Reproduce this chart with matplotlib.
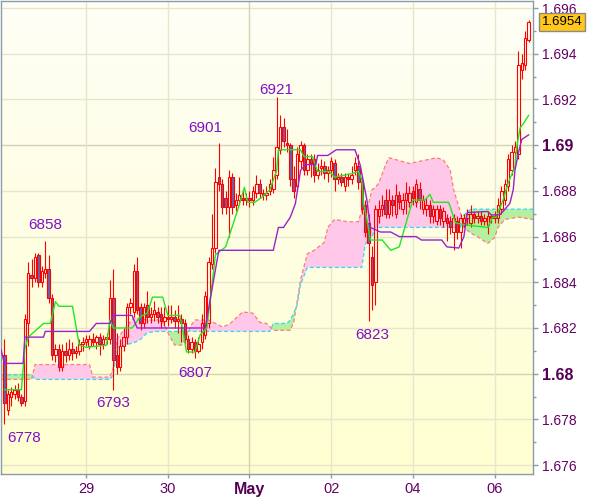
import numpy as np
import matplotlib
matplotlib.use('Agg')
import matplotlib.pyplot as plt
from matplotlib.colors import LinearSegmentedColormap
from matplotlib.transforms import blended_transform_factory

plt.rcParams['font.family'] = ['Liberation Sans', 'DejaVu Sans']

# hourly candles, prices in pips the way the chart labels them (6858 -> 1.6858)
first_bar = -24   # bars before the "29" gridline
open_pips = [
    6808, 6784, 6790, 6791, 6793, 6790, 6788, 6822, 6843, 6842,
    6852, 6840, 6844, 6846, 6833, 6808, 6811, 6803, 6810, 6808,
    6811, 6809, 6810, 6813, 6814, 6812, 6815, 6814, 6816, 6813,
    6815, 6815, 6833, 6808, 6803, 6812, 6816, 6829, 6827, 6845,
    6829, 6822, 6830, 6825, 6826, 6827, 6826, 6823, 6825, 6824,
    6825, 6823, 6824, 6822, 6815, 6811, 6814, 6810, 6814, 6817,
    6822, 6848, 6855, 6886, 6883, 6877, 6873, 6886, 6874, 6876,
    6877, 6876, 6877, 6876, 6879, 6883, 6879, 6878, 6880, 6881,
    6887, 6898, 6908, 6901, 6900, 6885, 6882, 6893, 6900, 6889,
    6894, 6894, 6887, 6890, 6891, 6888, 6889, 6892, 6885, 6886,
    6882, 6886, 6885, 6889, 6891, 6884, 6874, 6866, 6851, 6840,
    6869, 6872, 6876, 6870, 6876, 6870, 6878, 6872, 6876, 6875,
    6880, 6875, 6881, 6872, 6872, 6874, 6869, 6867, 6872, 6867,
    6868, 6867, 6862, 6867, 6862, 6866, 6868, 6866, 6870, 6868,
    6869, 6867, 6865, 6869, 6868, 6868, 6872, 6876, 6882, 6889,
    6897, 6896, 6933, 6935, 6946]
high_pips = [
    6815, 6793, 6794, 6795, 6796, 6791, 6826, 6849, 6850, 6853,
    6853, 6847, 6858, 6852, 6835, 6813, 6813, 6813, 6814, 6815,
    6814, 6812, 6815, 6816, 6817, 6817, 6818, 6817, 6818, 6817,
    6818, 6841, 6846, 6818, 6815, 6820, 6831, 6833, 6848, 6851,
    6831, 6831, 6836, 6829, 6832, 6829, 6829, 6829, 6830, 6830,
    6828, 6830, 6826, 6824, 6817, 6816, 6815, 6816, 6826, 6836,
    6851, 6870, 6890, 6901, 6885, 6880, 6889, 6888, 6879, 6886,
    6880, 6879, 6880, 6882, 6887, 6885, 6881, 6882, 6885, 6895,
    6921, 6913, 6912, 6907, 6901, 6891, 6899, 6902, 6901, 6896,
    6896, 6896, 6892, 6894, 6893, 6891, 6895, 6894, 6888, 6888,
    6888, 6888, 6891, 6895, 6896, 6886, 6876, 6870, 6856, 6874,
    6876, 6878, 6881, 6881, 6878, 6883, 6880, 6879, 6884, 6882,
    6882, 6885, 6884, 6878, 6877, 6876, 6874, 6874, 6874, 6873,
    6870, 6869, 6870, 6869, 6870, 6870, 6872, 6874, 6871, 6871,
    6871, 6870, 6871, 6870, 6871, 6877, 6882, 6885, 6896, 6900,
    6902, 6941, 6940, 6950, 6955]
low_pips = [
    6778, 6782, 6786, 6789, 6788, 6786, 6786, 6812, 6838, 6840,
    6838, 6838, 6842, 6831, 6806, 6805, 6801, 6801, 6805, 6806,
    6806, 6807, 6808, 6810, 6812, 6811, 6812, 6811, 6808, 6811,
    6813, 6813, 6793, 6800, 6801, 6810, 6813, 6826, 6825, 6826,
    6819, 6820, 6822, 6822, 6823, 6822, 6820, 6821, 6821, 6822,
    6820, 6818, 6814, 6813, 6809, 6809, 6807, 6809, 6811, 6815,
    6820, 6846, 6853, 6880, 6870, 6870, 6860, 6870, 6871, 6874,
    6874, 6874, 6873, 6874, 6877, 6877, 6876, 6876, 6878, 6879,
    6885, 6896, 6899, 6897, 6882, 6877, 6880, 6890, 6887, 6887,
    6886, 6884, 6885, 6887, 6885, 6884, 6886, 6880, 6883, 6882,
    6880, 6882, 6883, 6887, 6881, 6870, 6860, 6823, 6828, 6830,
    6866, 6869, 6868, 6868, 6869, 6868, 6872, 6870, 6870, 6873,
    6874, 6873, 6872, 6870, 6869, 6866, 6866, 6865, 6865, 6864,
    6858, 6861, 6854, 6859, 6855, 6864, 6865, 6864, 6866, 6866,
    6865, 6865, 6861, 6866, 6866, 6866, 6870, 6874, 6880, 6887,
    6893, 6894, 6929, 6933, 6945]
close_pips = [
    6787, 6791, 6792, 6793, 6790, 6787, 6824, 6844, 6842, 6851,
    6840, 6845, 6846, 6833, 6808, 6811, 6803, 6810, 6808, 6811,
    6809, 6810, 6813, 6814, 6815, 6815, 6814, 6816, 6813, 6815,
    6816, 6833, 6806, 6803, 6812, 6816, 6829, 6831, 6845, 6828,
    6822, 6829, 6825, 6826, 6828, 6825, 6823, 6825, 6824, 6825,
    6823, 6824, 6822, 6815, 6811, 6814, 6810, 6813, 6822, 6834,
    6849, 6855, 6884, 6883, 6873, 6873, 6886, 6873, 6876, 6878,
    6876, 6877, 6876, 6880, 6883, 6879, 6878, 6879, 6883, 6889,
    6899, 6908, 6902, 6900, 6885, 6880, 6896, 6900, 6889, 6894,
    6892, 6887, 6889, 6891, 6888, 6889, 6893, 6885, 6886, 6884,
    6886, 6885, 6887, 6892, 6884, 6872, 6862, 6857, 6839, 6872,
    6872, 6874, 6870, 6876, 6874, 6878, 6875, 6876, 6879, 6879,
    6877, 6883, 6876, 6876, 6874, 6869, 6872, 6872, 6868, 6871,
    6866, 6864, 6868, 6862, 6868, 6868, 6870, 6870, 6868, 6869,
    6867, 6868, 6869, 6868, 6869, 6874, 6880, 6883, 6894, 6897,
    6899, 6935, 6936, 6947, 6954]

day_labels = ['29', '30', 'May', '02', '04', '06']
bars_per_day = 24

# tenkan (green) and kijun (purple), read as breakpoints
tenkan_bar = [-24, -19, -18, -17, -12.5, -10.5, -9, -8, -4, -2, 0, 6, 7, 8, 13.5,
              16, 18, 19.5, 22.5, 24, 27.5, 28.5, 29.5, 32, 33.5, 35.5, 38, 41,
              44.5, 46.5, 47.5, 49.5, 51.5, 54, 56, 56.5, 63, 64, 66.5, 68, 71.5,
              73, 78, 80, 81, 81.5, 82.5, 83.5, 87, 89.5, 92, 94.5, 96, 99.5, 101,
              102, 106.5, 107, 108.5, 112, 118, 119.5, 120.5, 122.5, 124, 126,
              126.5, 127.5, 128.5, 130]
tenkan_pips = [6793, 6793, 6811, 6816, 6822, 6822, 6831.5, 6829.5, 6829.5, 6812.5,
               6811.5, 6812.5, 6823.5, 6820, 6820, 6825, 6826.5, 6833.5, 6833.5,
               6825.5, 6825.5, 6818.5, 6809.5, 6809.5, 6817, 6820, 6852, 6855.5,
               6871.5, 6881.5, 6875, 6875, 6877, 6880.5, 6889, 6898, 6898, 6895,
               6895, 6888.5, 6888.5, 6886, 6887.5, 6888.5, 6885, 6874.5, 6867.5,
               6858.5, 6858.5, 6854, 6855.5, 6868.5, 6876, 6876, 6878.5, 6875,
               6875, 6873, 6866, 6865, 6864, 6868.5, 6868.5, 6876, 6883.5, 6890.5,
               6899, 6907.5, 6909.5, 6913]
kijun_bar = [-25, -24, -18.5, -18, -12.5, -12, 1, 3, 7, 8, 13.5, 15, 35, 39, 55,
             56.5, 58, 60, 61.5, 63, 64.5, 67.5, 68, 71, 73.5, 79, 80.5, 82.5,
             83.5, 86.5, 89.5, 92, 97, 98.5, 104.5, 106, 109.5, 111, 112, 118,
             119, 121.5, 122.5, 124.5, 125.5, 126, 127, 128, 129, 130]
kijun_pips = [6810.5, 6804.5, 6804.5, 6816, 6816, 6818.5, 6818.5, 6822, 6822,
              6825.5, 6825.5, 6820, 6820, 6854, 6854, 6864, 6864, 6868.5, 6874.5,
              6889, 6891.5, 6891.5, 6895.5, 6895.5, 6898, 6898, 6891.5, 6876,
              6864, 6862, 6862, 6860, 6860, 6858.5, 6858.5, 6855.5, 6855, 6860,
              6870.5, 6871, 6869.5, 6869.5, 6871, 6874.5, 6880.5, 6889, 6896.5,
              6902.5, 6903.5, 6904.5]

# cloud: span A (cyan edge) and span B (salmon edge)
cloud_bar = [-25, -17, -16, -15, 1, 2, 7, 8, 9, 11, 14, 16, 18, 21, 23, 24, 26, 28,
             29, 31, 32, 36, 40, 42, 46, 49, 51, 53, 54, 55, 59, 60, 61, 62, 63, 65,
             67, 70, 71, 73, 77, 80, 81, 82, 83, 84, 85, 86, 88, 89, 95, 103, 105,
             107, 108, 110, 111, 113, 115, 118, 120, 121, 123, 127, 131.3]
span_a_pips = [6799.5, 6799.5, 6799.5, 6797.5, 6797.5, 6797.5, 6797.5, 6799.5,
               6811.5, 6812.5, 6813.5, 6815, 6818, 6818.5, 6818.5, 6818.5, 6818.5,
               6818.5, 6818.5, 6818.5, 6818.5, 6818.5, 6818.5, 6818.5, 6818.5,
               6818.5, 6818.5, 6818.5, 6818.5, 6822, 6822, 6823.5, 6826.5, 6830,
               6839, 6846.5, 6846.5, 6846.5, 6846.5, 6846.5, 6846.5, 6846.5,
               6846.5, 6856.5, 6860, 6860, 6864, 6864, 6864, 6864, 6864, 6864,
               6864, 6864, 6864, 6864, 6869.5, 6872, 6872, 6872, 6872, 6872, 6872,
               6872, 6872]
span_b_pips = [6797.5, 6797.5, 6797.5, 6804, 6804, 6798.5, 6798.5, 6802.5, 6815,
               6819, 6824.5, 6824, 6823.5, 6823.5, 6822, 6818, 6812.5, 6812.5,
               6815, 6821.5, 6823.5, 6823.5, 6820.5, 6821.5, 6827, 6826.5, 6822.5,
               6822, 6820.5, 6819, 6819, 6819, 6822.5, 6831.5, 6841, 6852.5, 6854,
               6857.5, 6864, 6867.5, 6866.5, 6866.5, 6871.5, 6873, 6874.5, 6880.5,
               6881.5, 6883.5, 6891.5, 6894.5, 6892, 6894.5, 6893.5, 6889, 6880.5,
               6870.5, 6864, 6861.5, 6860, 6857, 6859.5, 6864, 6867.5, 6868.5,
               6867.5]

# swing highs / lows written on the chart
extreme_bar = [-12, 39, 56, -24, 8, 32, 83]
extreme_pips = [6858, 6901, 6921, 6778, 6793, 6807, 6823]
extreme_shift = [(0, 16), (-14, 15), (0, 7), (20, -14), (0, -13), (0, -15), (4, -14)]

y_ticks = [1.676, 1.678, 1.680, 1.682, 1.684, 1.686, 1.688, 1.690, 1.692, 1.694, 1.696]
last_price = 1.6954


def price(p):
    return 1 + np.asarray(p, dtype=float) / 10000


o = price(open_pips)
h = price(high_pips)
l = price(low_pips)
c = price(close_pips)
bars = np.arange(len(o)) + first_bar

fig = plt.figure(figsize=(6, 4.97), dpi=100)
ax = fig.add_axes([1 / 600, 23 / 497, 532 / 600, 473 / 497])

bg = LinearSegmentedColormap.from_list('bg', ['#fefef6', '#ffffd0'])
ax.imshow(np.linspace(0, 1, 256).reshape(-1, 1), cmap=bg, aspect='auto',
          extent=[0, 1, 0, 1], transform=ax.transAxes, zorder=0)

day_pos = np.arange(len(day_labels)) * bars_per_day
for yv in y_ticks:
    strong = ('%.3f' % yv).endswith('0')
    ax.axhline(yv, color='#d2d2b4' if strong else '#e6e6cc', lw=1, zorder=1)
for xv, lab in zip(day_pos, day_labels):
    ax.axvline(xv, color='#d2d2b4' if lab == 'May' else '#e6e6cc', lw=1, zorder=1)

# cloud
cb = np.array(cloud_bar)
sa = price(span_a_pips)
sb = price(span_b_pips)
ax.fill_between(cb, sa, sb, where=sb >= sa, interpolate=True, color='#ffc8e8', lw=0, zorder=2)
ax.fill_between(cb, sa, sb, where=sa >= sb, interpolate=True, color='#b4f0a0', lw=0, zorder=2)
ax.plot(cb, sb, color='#ff7a7a', lw=0.9, ls=(0, (3, 2)), zorder=2.5)
ax.plot(cb, sa, color='#30d8f8', lw=0.9, ls=(0, (3, 2)), zorder=2.5)

# candles
top = np.maximum(o, c)
bot = np.minimum(o, c)
ax.vlines(bars, top, h, color='#ff0000', lw=0.8, zorder=3)
ax.vlines(bars, l, bot, color='#ff0000', lw=0.8, zorder=3)
up = c >= o
ax.bar(bars[up], (c - o)[up], bottom=o[up], width=0.72, facecolor='none',
       edgecolor='#ff0000', lw=0.8, zorder=3)
ax.bar(bars[~up], (o - c)[~up], bottom=c[~up], width=0.72, facecolor='#7060a8',
       edgecolor='#ff0000', lw=0.8, zorder=3)

ax.plot(tenkan_bar, price(tenkan_pips), color='#22e622', lw=1.0, zorder=4)
ax.plot(kijun_bar, price(kijun_pips), color='#9a22cc', lw=1.0, zorder=4)

for b, p, (dx, dy) in zip(extreme_bar, extreme_pips, extreme_shift):
    ax.annotate(str(p), xy=(b, price(p)), xytext=(dx * 0.72, dy * 0.72),
                textcoords='offset points', ha='center', va='center',
                fontsize=11, color='#8010c8', zorder=6, annotation_clip=False)

ax.set_xlim(-25, 131.3)
ax.set_ylim(1.67561, 1.69631)

# axes
spine_col = '#8c9ca6'
for s in ax.spines.values():
    s.set_color(spine_col)
    s.set_linewidth(1)
ax.yaxis.tick_right()
ax.set_yticks(y_ticks)
ax.set_yticklabels([('%.3f' % v).rstrip('0') for v in y_ticks])
ax.set_yticks(np.arange(1.677, 1.696, 0.002), minor=True)
ax.tick_params(axis='y', which='major', length=3.6, width=1, color=spine_col,
               pad=2.6, labelsize=10, labelcolor='#660066')
ax.tick_params(axis='y', which='minor', length=2.5, width=1, color=spine_col)
for t in ax.get_yticklabels():
    if len(t.get_text()) == 4:
        t.set_fontweight('bold')
        t.set_fontsize(11.5)
        t.set_color('#550055')

ax.set_xticks(day_pos)
ax.set_xticklabels(day_labels)
ax.tick_params(axis='x', length=3, width=1, color=spine_col, pad=3,
               labelsize=10.5, labelcolor='#660066')
for t in ax.get_xticklabels():
    if t.get_text() == 'May':
        t.set_fontweight('bold')
        t.set_fontsize(11.5)
        t.set_color('#550055')

tr = blended_transform_factory(ax.transAxes, ax.transData)
ax.text(1.0165, last_price, '%.4f' % last_price, transform=tr, ha='left', va='center',
        fontsize=9.5, color='black', zorder=10, clip_on=False,
        bbox=dict(boxstyle='square,pad=0.22', fc='#ffc81a', ec='#8a8a8a', lw=1))

fig.savefig('out.png', dpi=100)
